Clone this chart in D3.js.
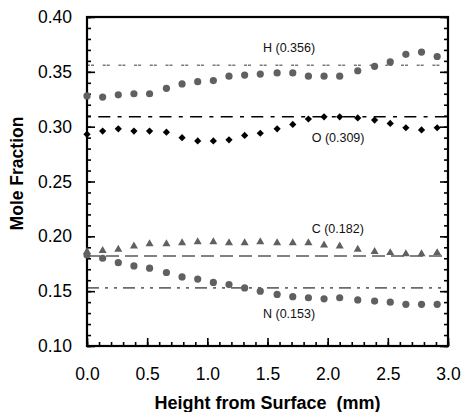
<!DOCTYPE html>
<html><head><meta charset="utf-8">
<script src="https://cdn.jsdelivr.net/npm/d3@7"></script>
<style>
html,body{margin:0;padding:0;background:#fff;}
svg{display:block;font-family:"Liberation Sans",Arial,Helvetica,sans-serif;}
</style></head>
<body><svg id="chart" width="462" height="412"></svg>
<script>
// Data
const heights = [0.00,0.13,0.26,0.39,0.52,0.66,0.79,0.92,1.05,1.18,1.31,1.44,1.58,1.71,1.84,1.97,2.10,2.25,2.39,2.52,2.65,2.78,2.91];
const hValues = [0.328,0.327,0.329,0.330,0.330,0.335,0.339,0.341,0.342,0.346,0.347,0.348,0.349,0.349,0.346,0.346,0.346,0.351,0.355,0.359,0.366,0.368,0.364];
const oValues = [0.293,0.296,0.298,0.296,0.296,0.295,0.290,0.287,0.287,0.288,0.292,0.294,0.298,0.302,0.307,0.309,0.309,0.308,0.306,0.303,0.299,0.297,0.299];
const cValues = [0.186,0.187,0.188,0.191,0.193,0.193,0.194,0.195,0.195,0.194,0.194,0.195,0.194,0.194,0.194,0.192,0.191,0.188,0.186,0.185,0.184,0.184,0.185];
const nValues = [0.183,0.180,0.176,0.173,0.171,0.167,0.163,0.161,0.158,0.156,0.153,0.150,0.147,0.145,0.144,0.143,0.144,0.142,0.141,0.140,0.138,0.138,0.138];
const refNames = ["H","O","C","N"];
const refValues = [0.356,0.309,0.182,0.153];
const yTickLabels = [0.10,0.15,0.20,0.25,0.30,0.35,0.40];
const xTickLabels = [0.0,0.5,1.0,1.5,2.0,2.5,3.0];
const yMinorTicks = d3.range(10,41).map(v=>v/100);
const xMinorTicks = d3.range(0,31).map(v=>v/10);

const svg = d3.select("#chart");
const L=87, R=448, T=17, B=346;
const x = d3.scaleLinear().domain([0,3]).range([L,R]);
const y = d3.scaleLinear().domain([0.10,0.40]).range([B,T]);

// reference lines
const refStyle = {
  H:{color:"#7a7a7a", dash:"3,1,3,8.7", lx:263, ly:52},
  O:{color:"#000", dash:"4,7.3,12,7.3", lx:311.7, ly:142.4},
  C:{color:"#5a5a5a", dash:"13,6", lx:311.7, ly:233},
  N:{color:"#6a6a6a", dash:"12,6,3,6,3,6", lx:263, ly:318}
};
refNames.forEach((n,i)=>{
  const s = refStyle[n];
  svg.append("line").attr("x1",x(0)).attr("x2",x(3)).attr("y1",y(refValues[i])).attr("y2",y(refValues[i]))
    .attr("stroke",s.color).attr("stroke-width",1.6).attr("stroke-dasharray",s.dash);
  svg.append("text").attr("x",s.lx).attr("y",s.ly).attr("font-size",12.5).attr("fill","#111")
    .text(n+" ("+refValues[i].toFixed(3)+")");
});

// axes
function styleAxis(g){ g.select(".domain").remove(); g.selectAll("line").attr("stroke","#000").attr("stroke-width",1.6); }
svg.append("g").attr("transform",`translate(${L},0)`).call(d3.axisLeft(y).tickValues(yMinorTicks).tickSize(-4).tickFormat("")).call(styleAxis);
svg.append("g").attr("transform",`translate(${L},0)`).call(d3.axisLeft(y).tickValues(yTickLabels).tickSize(-8).tickPadding(15).tickFormat(d3.format(".2f")))
  .call(styleAxis).call(g=>g.selectAll("text").attr("font-size",17.5).attr("fill","#000").attr("font-family","Liberation Sans, Arial, sans-serif"));
svg.append("g").attr("transform",`translate(${R},0)`).call(d3.axisRight(y).tickValues(yMinorTicks).tickSize(-4).tickFormat("")).call(styleAxis);
svg.append("g").attr("transform",`translate(${R},0)`).call(d3.axisRight(y).tickValues(yTickLabels).tickSize(-8).tickFormat("")).call(styleAxis);
svg.append("g").attr("transform",`translate(0,${B})`).call(d3.axisBottom(x).tickValues(xMinorTicks).tickSize(-4).tickFormat("")).call(styleAxis);
svg.append("g").attr("transform",`translate(0,${B})`).call(d3.axisBottom(x).tickValues(xTickLabels).tickSize(-8).tickPadding(22).tickFormat(d3.format(".1f")))
  .call(styleAxis).call(g=>g.selectAll("text").attr("font-size",17.5).attr("fill","#000").attr("font-family","Liberation Sans, Arial, sans-serif"));

// frame
svg.append("rect").attr("x",L).attr("y",T).attr("width",R-L).attr("height",B-T)
  .attr("fill","none").attr("stroke","#000").attr("stroke-width",2.2);

// markers
const gray = "#606060";
svg.append("g").selectAll("circle").data(hValues).join("circle")
  .attr("cx",(d,i)=>x(heights[i])).attr("cy",d=>y(d)).attr("r",3.6).attr("fill",gray);
svg.append("g").selectAll("circle").data(nValues).join("circle")
  .attr("cx",(d,i)=>x(heights[i])).attr("cy",d=>y(d)).attr("r",3.6).attr("fill",gray);
svg.append("g").selectAll("path").data(oValues).join("path")
  .attr("d",d3.symbol(d3.symbolSquare,26)())
  .attr("transform",(d,i)=>`translate(${x(heights[i])},${y(d)}) rotate(45)`).attr("fill","#000");
svg.append("g").selectAll("path").data(cValues).join("path")
  .attr("d",d3.symbol(d3.symbolTriangle,28)())
  .attr("transform",(d,i)=>`translate(${x(heights[i])},${y(d)})`).attr("fill",gray);

// titles
svg.append("text").attr("x",(L+R)/2).attr("y",409).attr("text-anchor","middle")
  .attr("font-size",18).attr("font-weight","bold").style("white-space","pre")
  .text("Height from Surface\u00a0 (mm)");
svg.append("text").attr("transform","translate(23,173.5) rotate(-90)").attr("text-anchor","middle")
  .attr("font-size",17.5).attr("font-weight","bold").text("Mole Fraction");
</script></body></html>
